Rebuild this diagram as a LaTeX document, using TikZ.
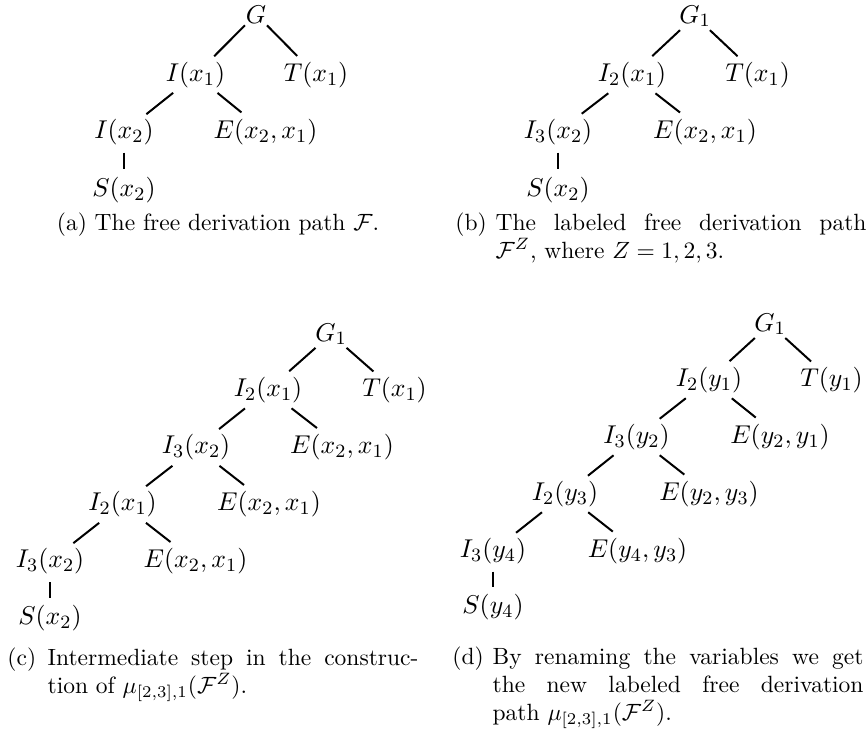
\documentclass[tikz,border=0pt]{standalone}
\usetikzlibrary{shapes.geometric}
\newcommand\treefont{\fontsize{10.95}{13.6}\selectfont}
\newlength\hangw
\setlength\hangw{17.1pt}
\newcommand\capbox[2]{\parbox[t]{174.9pt}{\tolerance=10000\noindent\hangindent=\hangw\hangafter=1\makebox[\hangw][l]{#1}#2}}
\tikzset{
  tn/.style={shape=ellipse, inner sep=0.6pt, font=\treefont},
  tb/.style={tn, anchor=base},
  tl/.style={line width=0.85pt},
  captext/.style={inner sep=0pt, font=\fontsize{10}{12}\selectfont},
}
\begin{document}
\begin{tikzpicture}[x=0.42553pt, y=-0.42553pt]
\useasboundingbox (0,0) rectangle (867,734);
% (a)
\node[tb] (aG) at (256,23) {$G$};
\node[tn] (aI1) at (195.5,75) {$I(x_1)$};
\node[tn] (aT) at (316,75) {$T(x_1)$};
\node[tn] (aI2) at (124,132) {$I(x_2)$};
\node[tn] (aE) at (265.5,132) {$E(x_2,x_1)$};
\node[tn] (aS) at (124,190) {$S(x_2)$};
\draw[tl] (aG) -- (aI1);
\draw[tl] (aG) -- (aT);
\draw[tl] (aI1) -- (aI2);
\draw[tl] (aI1) -- (aE);
\draw[tl] (aI2) -- (aS);
\node[captext, anchor=base] (capa) at (218,230) {(a) The free derivation path $\mathcal{F}$.};
% (b)
\node[tb] (bG) at (695,23) {$G_1$};
\node[tn] (bI1) at (632,75) {$I_2(x_1)$};
\node[tn] (bT) at (757.5,75) {$T(x_1)$};
\node[tn] (bI2) at (558,132) {$I_3(x_2)$};
\node[tn] (bE) at (705,132) {$E(x_2,x_1)$};
\node[tn] (bS) at (558,190) {$S(x_2)$};
\draw[tl] (bG) -- (bI1);
\draw[tl] (bG) -- (bT);
\draw[tl] (bI1) -- (bI2);
\draw[tl] (bI1) -- (bE);
\draw[tl] (bI2) -- (bS);
\node[captext, anchor=base west] (capb) at (455,230) {\capbox{(b)}{The labeled free derivation path\linebreak $\mathcal{F}^Z$, where $Z=1,2,3$.}};
% (c)
\node[tb] (cG) at (331,341) {$G_1$};
\node[tn] (cI1) at (268,390) {$I_2(x_1)$};
\node[tn] (cT) at (394.5,390) {$T(x_1)$};
\node[tn] (cI2) at (196,447.5) {$I_3(x_2)$};
\node[tn] (cE1) at (342,447.5) {$E(x_2,x_1)$};
\node[tn] (cI3) at (122.5,504.5) {$I_2(x_1)$};
\node[tn] (cE2) at (269,504.5) {$E(x_2,x_1)$};
\node[tn] (cI4) at (50,561.5) {$I_3(x_2)$};
\node[tn] (cE3) at (195.5,561.5) {$E(x_2,x_1)$};
\node[tn] (cS) at (50,618.5) {$S(x_2)$};
\draw[tl] (cG) -- (cI1);
\draw[tl] (cG) -- (cT);
\draw[tl] (cI1) -- (cI2);
\draw[tl] (cI1) -- (cE1);
\draw[tl] (cI2) -- (cI3);
\draw[tl] (cI2) -- (cE2);
\draw[tl] (cI3) -- (cI4);
\draw[tl] (cI3) -- (cE3);
\draw[tl] (cI4) -- (cS);
\node[captext, anchor=base west] (capc) at (7,665) {\capbox{(c)}{Intermediate step in the construc-\linebreak tion of $\mu_{[2,3],1}(\mathcal{F}^Z)$.}};
% (d)
\node[tb] (dG) at (770,331) {$G_1$};
\node[tn] (dI1) at (709,380) {$I_2(y_1)$};
\node[tn] (dT) at (831.5,380) {$T(y_1)$};
\node[tn] (dI2) at (636.5,437) {$I_3(y_2)$};
\node[tn] (dE1) at (780,437) {$E(y_2,y_1)$};
\node[tn] (dI3) at (565,494) {$I_2(y_3)$};
\node[tn] (dE2) at (709,494) {$E(y_2,y_3)$};
\node[tn] (dI4) at (493,551) {$I_3(y_4)$};
\node[tn] (dE3) at (637.5,551) {$E(y_4,y_3)$};
\node[tn] (dS) at (493,607.5) {$S(y_4)$};
\draw[tl] (dG) -- (dI1);
\draw[tl] (dG) -- (dT);
\draw[tl] (dI1) -- (dI2);
\draw[tl] (dI1) -- (dE1);
\draw[tl] (dI2) -- (dI3);
\draw[tl] (dI2) -- (dE2);
\draw[tl] (dI3) -- (dI4);
\draw[tl] (dI3) -- (dE3);
\draw[tl] (dI4) -- (dS);
\node[captext, anchor=base west] (capd) at (452,664) {\capbox{(d)}{By renaming the variables we get\linebreak the new labeled free derivation\linebreak path $\mu_{[2,3],1}(\mathcal{F}^Z)$.}};
\end{tikzpicture}
\end{document}
